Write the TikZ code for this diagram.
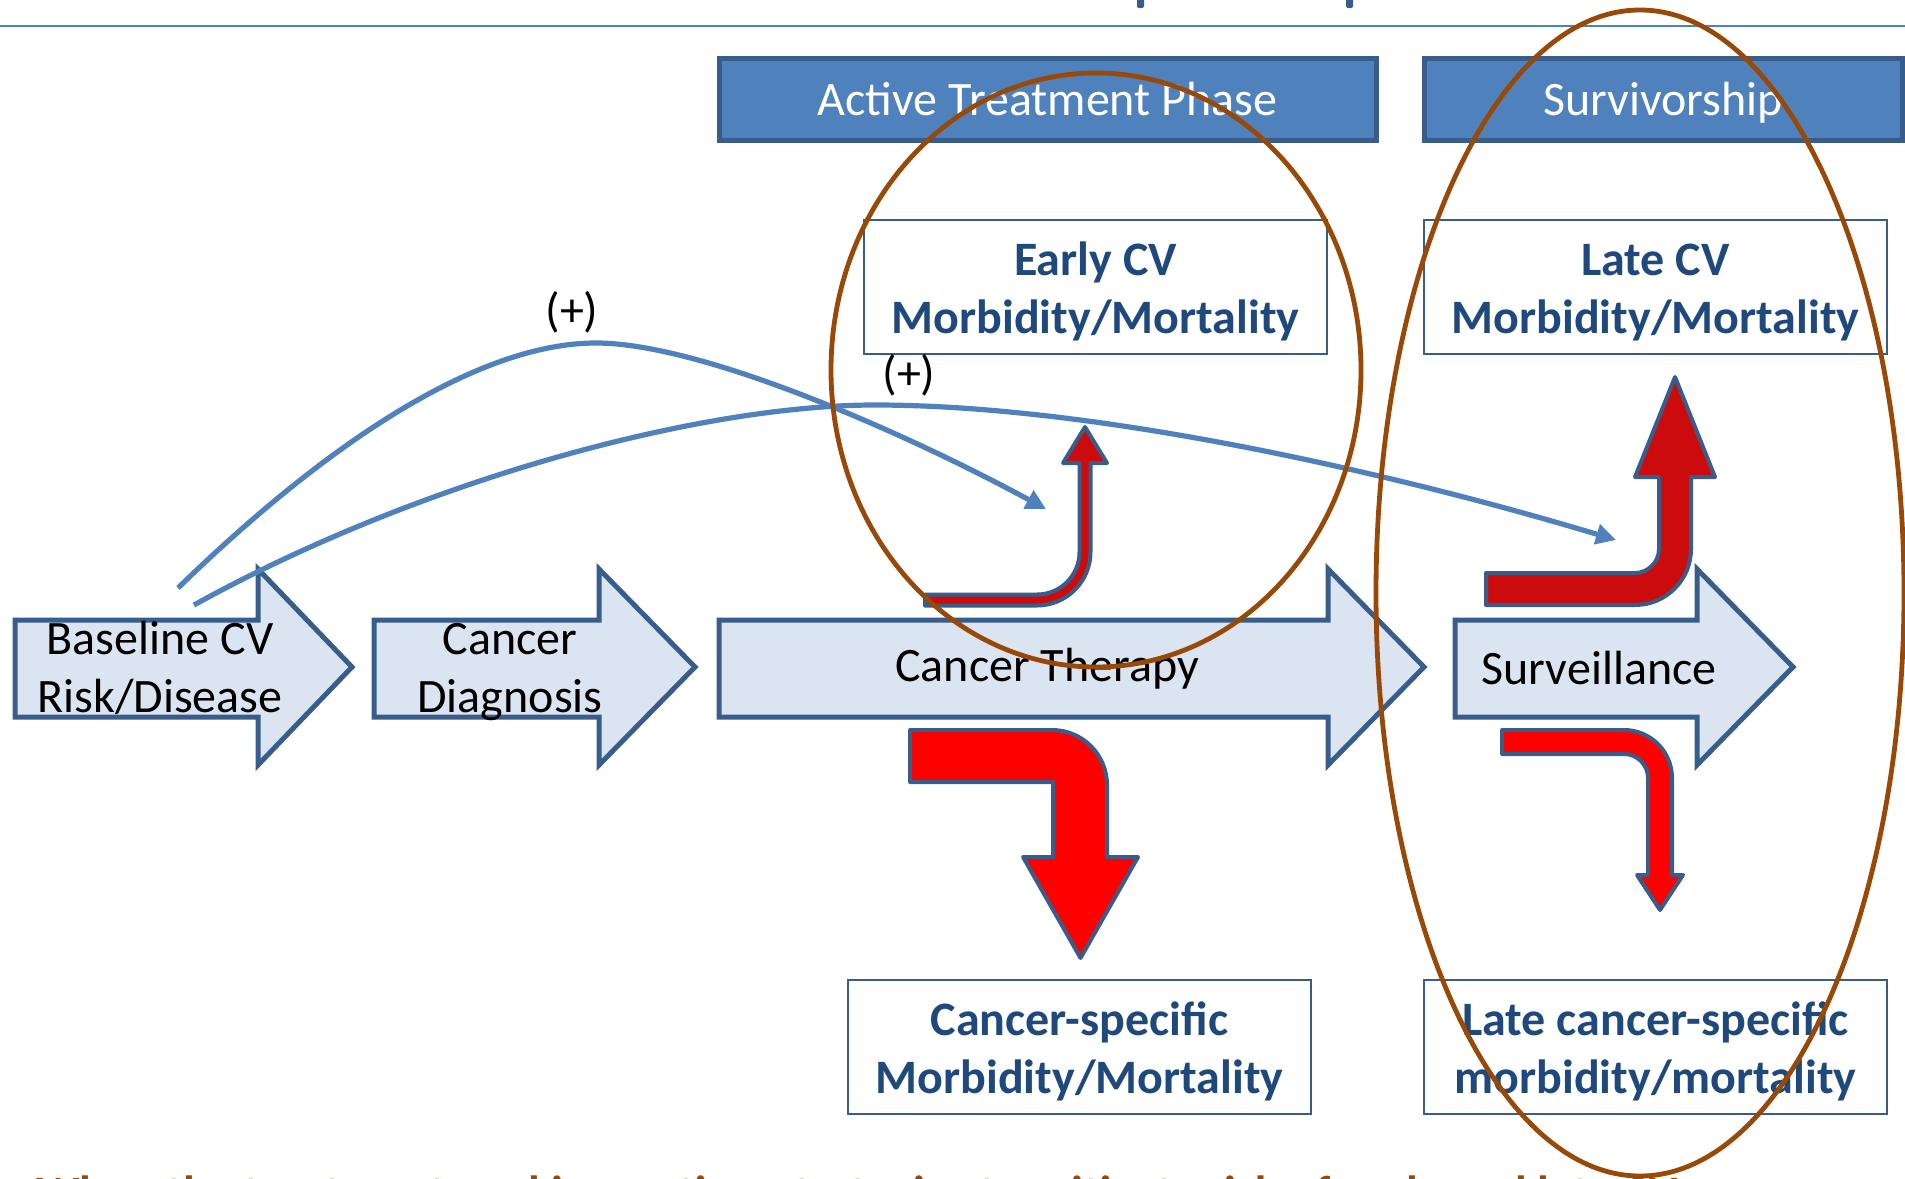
\documentclass[tikz,border=0pt]{standalone}
\usepackage{fontspec}
\setmainfont{Carlito}
\usetikzlibrary{arrows.meta}
\definecolor{hdrblue}{RGB}{79,129,189}
\definecolor{edgeblue}{RGB}{56,93,138}
\definecolor{lightfill}{RGB}{219,229,241}
\definecolor{txtblue}{RGB}{31,73,125}
\definecolor{brownc}{RGB}{152,72,7}
\definecolor{darkred}{RGB}{204,12,12}
\definecolor{brightred}{RGB}{255,0,0}
\newcommand\bigf{\fontsize{24}{29}\selectfont}
\begin{document}
\begin{tikzpicture}[x=0.5pt,y=-0.5pt,
  blockarrow/.style={fill=lightfill, draw=edgeblue, line width=2.5pt, line join=miter},
  redarrow/.style={draw=edgeblue, line width=2pt, line join=round},
  hdr/.style={fill=hdrblue, draw=edgeblue, line width=2.5pt, text=white, font=\bigf,
    inner sep=0pt, minimum height=41pt, text height=16.8pt, text depth=0pt},
  outbox/.style={draw=edgeblue, line width=1pt, fill=white, inner sep=0pt,
    minimum width=231.5pt, minimum height=67pt},
  outtext/.style={text=txtblue, font=\bigf\bfseries, align=center, inner sep=0pt},
  steptext/.style={font=\bigf, align=center, inner sep=0pt},
  plus/.style={font=\bigf, inner sep=0pt},
  link/.style={draw=hdrblue, line width=2.6pt, -{Triangle[length=10pt,width=10pt]}},
  ring/.style={draw=brownc, line width=2.4pt}
]
\useasboundingbox (0,0) rectangle (1905,1178);
\clip (0,0) rectangle (1905,1178);

% top rule and cut-off title marks
\draw[hdrblue, line width=1pt] (0,26) -- (1905,26);
\fill[edgeblue, rounded corners=1pt] (1137,-6) rectangle (1144,8);
\fill[edgeblue, rounded corners=1pt] (1346,-6) rectangle (1353,8);

% headers
\node[hdr, minimum width=328.5pt] (hdrA) at (1047.5,99) {Active Treatment Phase};
\node[hdr, minimum width=239pt] (hdrS) at (1663,99) {Survivorship};

% block arrows
\path[blockarrow] (15,620) -- (258,620) -- (258,569) -- (352,667) -- (258,765) -- (258,717) -- (15,717) -- cycle;
\path[blockarrow] (374,620) -- (599,620) -- (599,569) -- (695,667) -- (599,765) -- (599,717) -- (374,717) -- cycle;
\path[blockarrow] (719,620) -- (1328,620) -- (1328,569) -- (1424,667) -- (1328,765) -- (1328,717) -- (719,717) -- cycle;
\path[blockarrow] (1455,620) -- (1697,620) -- (1697,569) -- (1793,667) -- (1697,765) -- (1697,717) -- (1455,717) -- cycle;

\node[steptext] (base) at (160,668) {Baseline CV\\Risk/Disease};
\node[steptext] (diag) at (510,672) {Cancer\\Diagnosis};
\node[steptext] (ther) at (1047,669) {Cancer Therapy};
\node[steptext] (surv) at (1599,668) {Surveillance};

% outcome boxes
\node[outbox] (early) at (1095.5,287) {};
\node[outbox] (late) at (1655.5,287) {};
\node[outbox] (cspec) at (1079.5,1047) {};
\node[outbox] (lcspec) at (1655.5,1047) {};
\node[outtext] (earlyT) at (1095.5,291) {Early CV\\Morbidity/Mortality};
\node[outtext] (lateT) at (1655.5,293) {Late CV\\Morbidity/Mortality};
\node[outtext] (cspecT) at (1079.5,1051) {Cancer-specific\\Morbidity/Mortality};
\node[outtext] (lcspecT) at (1655.5,1051) {Late cancer-specific\\morbidity/mortality};

% red bent arrows
\path[redarrow, fill=darkred] (925,605.5) -- (1037,605.5)
  .. controls (1066.5,605.5) and (1090.5,581.5) .. (1090.5,552)
  -- (1090.5,463) -- (1107,463) -- (1085,427) -- (1063,463) -- (1079.5,463) -- (1079.5,552)
  .. controls (1079.5,575.5) and (1060.5,594.5) .. (1037,594.5) -- (925,594.5) -- cycle;
\path[redarrow, fill=darkred] (1486,605) -- (1635,605)
  .. controls (1666,605) and (1691,580) .. (1691,549)
  -- (1691,477) -- (1715,477) -- (1675,377) -- (1635,477) -- (1659,477) -- (1659,549)
  .. controls (1659,562) and (1648,573) .. (1635,573) -- (1486,573) -- cycle;
\path[redarrow, fill=brightred] (910,730) -- (1052,730)
  .. controls (1082.4,730) and (1107,754.6) .. (1107,785)
  -- (1107,857) -- (1138,857) -- (1080.5,958) -- (1023,857) -- (1053,857) -- (1053,782)
  -- (910,782) -- cycle;
\path[redarrow, fill=brightred] (1502,730) -- (1624,730)
  .. controls (1650.5,730) and (1672,751.5) .. (1672,778)
  -- (1672,875) -- (1683,875) -- (1660,910) -- (1637,875) -- (1648,875) -- (1648,778)
  .. controls (1648,764.8) and (1637.2,754) .. (1624,754) -- (1502,754) -- cycle;

% blue curved links
\coordinate (s1) at (178,588);
\coordinate (p1) at (596,343);
\coordinate (e1) at (1046,509);
\coordinate (s2) at (194,605);
\coordinate (p2) at (875,405);
\coordinate (e2) at (1616,540);
\draw[link] (s1) .. controls (330,440) and (480,343) .. (p1)
  .. controls (700,343) and (900,430) .. (e1);
\draw[link] (s2) .. controls (420,480) and (700,405) .. (p2)
  .. controls (1100,405) and (1400,475) .. (e2);

\node[plus] (plusA) at (572,312) {(+)};
\node[plus] (plusB) at (909,375) {(+)};

% cut-off bottom note
\node[anchor=base west, inner sep=0pt, font=\bigf\bfseries, text=brownc] (note) at (36,1209)
  {When the treatment goal is curative, strategies to mitigate risk of early and late CV};

% ellipses
\draw[ring] (1096,370) ellipse [x radius=265, y radius=297];
\draw[ring] (1640,593) ellipse [x radius=264, y radius=583];
\end{tikzpicture}
\end{document}
